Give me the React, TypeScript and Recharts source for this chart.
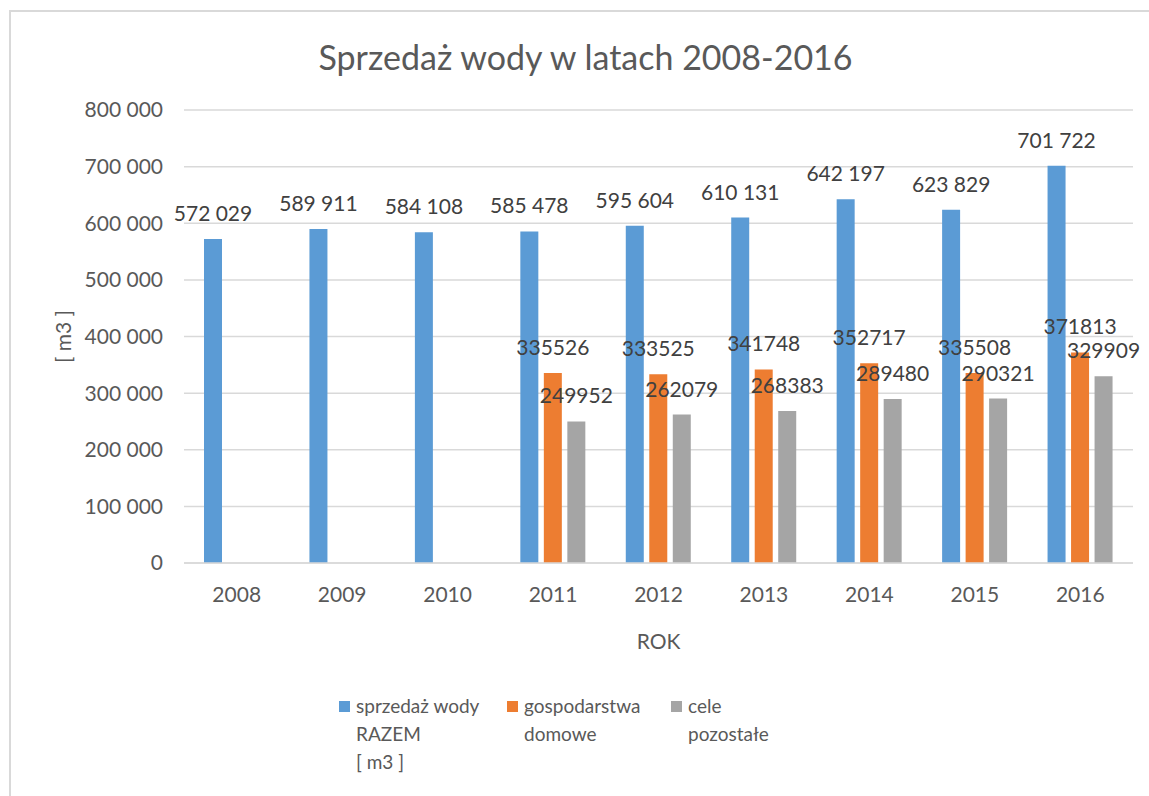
import { BarChart, Bar, XAxis, YAxis, CartesianGrid, Legend, LabelList } from "recharts"

const years = ["2008", "2009", "2010", "2011", "2012", "2013", "2014", "2015", "2016"]
const totalSales = [572029, 589911, 584108, 585478, 595604, 610131, 642197, 623829, 701722]
const households = [null, null, null, 335526, 333525, 341748, 352717, 335508, 371813]
const otherUses = [null, null, null, 249952, 262079, 268383, 289480, 290321, 329909]
const yTicks = [0, 100000, 200000, 300000, 400000, 500000, 600000, 700000, 800000]

const seriesNames = ["sprzedaż wody RAZEM [ m3 ]", "gospodarstwa domowe", "cele pozostałe"]
const legendLines = [["sprzedaż wody", "RAZEM", "[ m3 ]"], ["gospodarstwa", "domowe"], ["cele", "pozostałe"]]
const colors = ["#5b9bd5", "#ed7d31", "#a5a5a5"]

const data = years.map((year, i) => ({
  year,
  total: totalSales[i],
  home: households[i],
  other: otherUses[i],
}))

// non-breaking space so recharts doesn't wrap the label
const spaced = (v: number) => String(v).replace(/\B(?=(\d{3})+(?!\d))/g, "\u00A0")

const labelStyle = { fill: "#404040", fontSize: 21 }
const tickStyle = { fill: "#595959", fontSize: 21 }

function renderLegend() {
  const widths = [168, 164, 170]
  return (
    <div style={{ display: "flex", paddingLeft: 339, color: "#595959", fontSize: 19, lineHeight: "28px" }}>
      {legendLines.map((lines, i) => (
        <div key={i} style={{ display: "flex", width: widths[i] }}>
          <div style={{ width: 11, height: 11, background: colors[i], marginTop: 8.5, marginRight: 6, flexShrink: 0 }} />
          <div>
            {lines.map((l) => (
              <div key={l}>{l}</div>
            ))}
          </div>
        </div>
      ))}
    </div>
  )
}

export default function App() {
  return (
    <div
      style={{
        position: "absolute",
        left: 0,
        top: 0,
        width: 1149,
        height: 796,
        overflow: "hidden",
        background: "#fff",
        fontFamily: "Lato, sans-serif",
      }}
    >
      <div
        style={{
          position: "absolute",
          left: 9,
          top: 10,
          width: 1300,
          height: 1000,
          border: "2px solid #d9d9d9",
          boxSizing: "border-box",
        }}
      />
      <div
        style={{
          position: "absolute",
          left: 0,
          top: 36,
          width: 1171,
          textAlign: "center",
          fontSize: 34,
          lineHeight: "42px",
          color: "#595959",
        }}
      >
        Sprzedaż wody w latach 2008-2016
      </div>
      <div style={{ position: "absolute", left: 0, top: 0 }}>
        <BarChart
          width={1149}
          height={796}
          data={data}
          margin={{ top: 110, right: 16, left: 0, bottom: 138 }}
          barSize={18}
          barGap={5.5}
        >
          <CartesianGrid vertical={false} stroke="#d9d9d9" strokeWidth={1.5} />
          <XAxis
            dataKey="year"
            tickLine={false}
            axisLine={{ stroke: "#d9d9d9", strokeWidth: 1.5 }}
            tickSize={0}
            tickMargin={24}
            tick={tickStyle}
            interval={0}
            height={95}
            label={{ value: "ROK", position: "insideBottom", offset: 9, fill: "#595959", fontSize: 21 }}
          />
          <YAxis
            domain={[0, 800000]}
            ticks={yTicks}
            tickFormatter={spaced}
            axisLine={false}
            tickLine={false}
            tickSize={0}
            tickMargin={21}
            tick={tickStyle}
            width={184}
            interval={0}
            label={{
              content: (props: any) => {
                const vb = props.viewBox
                const cx = vb.x + 62
                const cy = vb.y + vb.height / 2
                return (
                  <text
                    x={cx}
                    y={cy}
                    transform={`rotate(-90, ${cx}, ${cy})`}
                    textAnchor="middle"
                    dominantBaseline="central"
                    fill="#595959"
                    fontSize={21}
                  >
                    [ m3 ]
                  </text>
                )
              },
            }}
          />
          <Legend
            layout="horizontal"
            verticalAlign="middle"
            align="center"
            wrapperStyle={{ top: 692, left: 0, width: 1149 }}
            content={renderLegend}
          />
          <Bar dataKey="total" name={seriesNames[0]} fill={colors[0]} isAnimationActive={false}>
            <LabelList dataKey="total" position="top" offset={18} style={labelStyle} formatter={(v: any) => spaced(Number(v))} />
          </Bar>
          <Bar dataKey="home" name={seriesNames[1]} fill={colors[1]} isAnimationActive={false}>
            <LabelList dataKey="home" position="top" offset={18} style={labelStyle} />
          </Bar>
          <Bar dataKey="other" name={seriesNames[2]} fill={colors[2]} isAnimationActive={false}>
            <LabelList dataKey="other" position="top" offset={18} style={labelStyle} />
          </Bar>
        </BarChart>
      </div>
    </div>
  )
}
